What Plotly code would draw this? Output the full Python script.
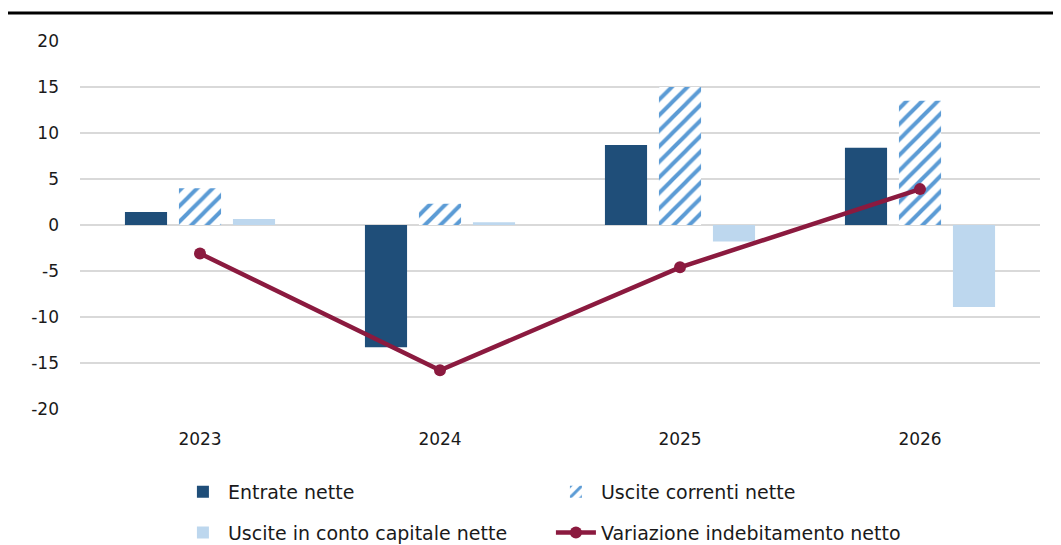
import plotly.graph_objects as go

years = ["2023", "2024", "2025", "2026"]
entrate = [1.4, -13.3, 8.7, 8.4]
uscite_correnti = [4.0, 2.3, 15.0, 13.5]
uscite_capitale = [0.65, 0.3, -1.8, -8.9]
variazione = [-3.1, -15.8, -4.6, 3.9]
y_ticks = [20, 15, 10, 5, 0, -5, -10, -15, -20]
y_tick_labels = ["20", "15", "10", "5", "0", "-5", "-10", "-15", "-20"]

FONT = "DejaVu Sans"

fig = go.Figure()
fig.add_trace(go.Bar(x=years, y=entrate, name="Entrate nette", legend="legend",
                     marker=dict(color="#1F4E79", line=dict(width=0))))
fig.add_trace(go.Bar(x=years, y=uscite_correnti, name="Uscite correnti nette", legend="legend",
                     marker=dict(color="white", line=dict(width=0),
                                 pattern=dict(shape="/", fgcolor="#5B9BD5", bgcolor="white",
                                              size=11, solidity=0.36, fillmode="replace"))))
fig.add_trace(go.Bar(x=years, y=uscite_capitale, name="Uscite in conto capitale nette",
                     legend="legend2",
                     marker=dict(color="#BDD7EE", line=dict(width=0))))
fig.add_trace(go.Scatter(x=years, y=variazione, name="Variazione indebitamento netto",
                         legend="legend2", mode="lines+markers",
                         line=dict(color="#8B1A3F", width=4.5),
                         marker=dict(color="#8B1A3F", size=12)))

leg_common = dict(orientation="h", xanchor="left", yanchor="middle", yref="container",
                  entrywidth=318, entrywidthmode="pixels", traceorder="normal",
                  font=dict(family=FONT, size=19, color="#1a1a1a"), itemwidth=40,
                  bgcolor="rgba(0,0,0,0)")

fig.update_layout(
    width=1053, height=537,
    margin=dict(l=72, r=21, t=33, b=136),
    paper_bgcolor="white", plot_bgcolor="white",
    font=dict(family=FONT, size=17, color="#1a1a1a"),
    barmode="group", bargap=0.325, bargroupgap=0.22,
    showlegend=True,
    legend=dict(x=0.102, y=0.099, **leg_common),
    legend2=dict(x=0.102, y=0.023, **leg_common),
    xaxis=dict(showgrid=False, showline=False, ticks="", tickfont=dict(size=17),
               ticklabelstandoff=18),
    yaxis=dict(range=[-20, 20], tickvals=y_ticks, ticktext=y_tick_labels,
               showgrid=True, gridcolor="#D9D9D9",
               gridwidth=1.5, zeroline=True, zerolinecolor="#D9D9D9", zerolinewidth=1.5,
               showline=False, ticks="", tickfont=dict(size=17), ticklabelstandoff=20),
    shapes=[dict(type="line", xref="paper", yref="paper", x0=-0.085, x1=1.03,
                 y0=1.076, y1=1.076, line=dict(color="black", width=3))],
)

fig.write_html("out.html")
